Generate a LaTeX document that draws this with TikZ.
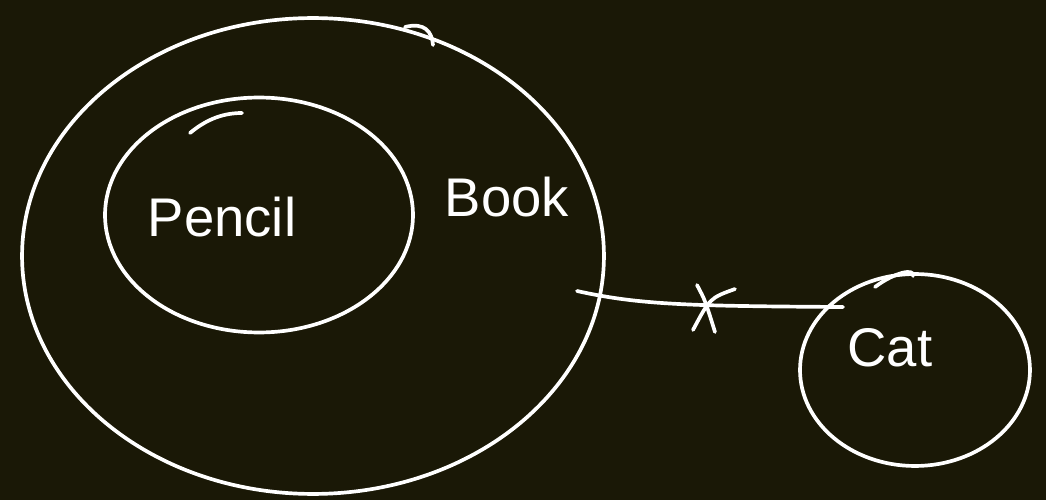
\documentclass[tikz,border=0pt]{standalone}
\usepackage{fontspec}
\setmainfont{Liberation Sans}
\usetikzlibrary{shapes.geometric}
\definecolor{bg}{RGB}{26,24,6}
\begin{document}
\begin{tikzpicture}[x=0.02cm,y=-0.02cm,
  ink/.style={draw=white,line width=2.1pt,line cap=round,line join=round},
  blob/.style={ellipse,ink,inner sep=0pt},
  hand/.style={text=white,font=\fontsize{31}{33}\selectfont}]
\fill[bg] (0,0) rectangle (1046,500);
\useasboundingbox (0,0) rectangle (1046,500);
\node[blob,minimum width=11.64cm,minimum height=9.52cm] (book) at (313,256) {};
\node[blob,minimum width=6.16cm,minimum height=4.7cm] (pencil) at (259,215) {};
\node[blob,minimum width=4.6cm,minimum height=3.84cm] (cat) at (915,370) {};
\node[hand] (tp) at (222,217) {Pencil};
\node[hand] (tb) at (507,197) {Book};
\node[hand] (tc) at (890,348) {Cat};
% pen tails
\draw[ink] (405,27) .. controls (425,22) and (432,32) .. (433,45);
\draw[ink] (190,133) .. controls (208,118) and (225,113) .. (242,113);
\draw[ink] (875,287) .. controls (895,272) and (915,268) .. (913,276);
% connector
\coordinate (ls) at (577,291);
\coordinate (le) at (843,307);
\draw[ink] (ls) .. controls (640,305) and (690,306) .. (le);
\coordinate (x1) at (697,285);
\coordinate (x2) at (715,332);
\coordinate (x3) at (735,289);
\coordinate (x4) at (693,330);
\draw[ink] (x1) .. controls (705,300) .. (x2);
\draw[ink] (x3) .. controls (710,298) .. (x4);
\end{tikzpicture}
\end{document}
